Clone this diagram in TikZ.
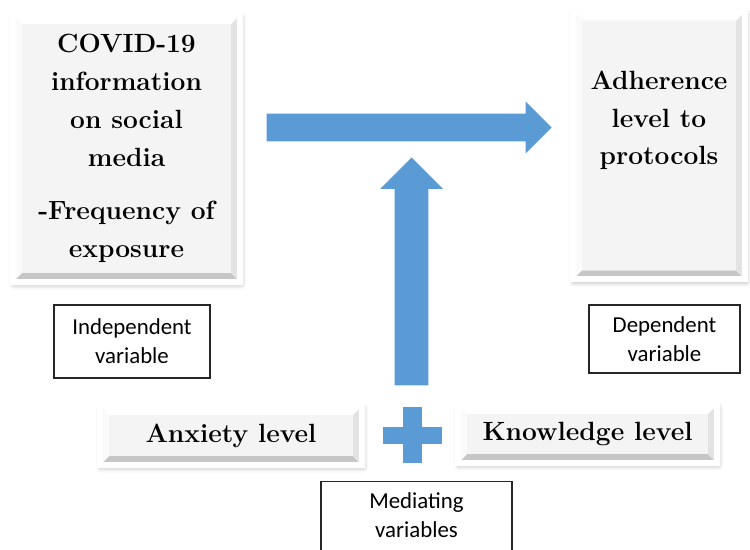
\documentclass[tikz,border=0pt]{standalone}
\usepackage{fontspec}
\newfontfamily\calibri{Carlito}
\usetikzlibrary{positioning,shapes.arrows,shadows.blur}
\definecolor{flowblue}{HTML}{5B9BD5}
\definecolor{panelgray}{HTML}{F4F4F4}
\tikzset{
  panel/.style={rectangle, fill=panelgray, draw=white, line width=3.4pt, inner sep=0pt,
    blur shadow={shadow xshift=0.6pt, shadow yshift=-1.4pt, shadow blur radius=3pt, shadow opacity=35},
    path picture={
      \fill[gray!45] (path picture bounding box.south west) -- ++(5pt,5pt)
        -- ([shift={(-5pt,5pt)}]path picture bounding box.south east)
        -- (path picture bounding box.south east) -- cycle;
      \fill[gray!22] (path picture bounding box.south east) -- ++(-5pt,5pt)
        -- ([shift={(-5pt,-5pt)}]path picture bounding box.north east)
        -- (path picture bounding box.north east) -- cycle;
      \fill[white] (path picture bounding box.north west) -- ++(5pt,-5pt)
        -- ([shift={(-5pt,-5pt)}]path picture bounding box.north east)
        -- (path picture bounding box.north east) -- cycle;
      \fill[white!96!gray] (path picture bounding box.south west) -- ++(5pt,5pt)
        -- ([shift={(5pt,-5pt)}]path picture bounding box.north west)
        -- (path picture bounding box.north west) -- cycle;
    }},
  paneltext/.style={font=\fontsize{15}{21.5}\selectfont\bfseries, align=center, inner sep=0pt},
  varbox/.style={rectangle, draw=black!85, line width=0.7pt, fill=white, inner sep=0pt},
  vartext/.style={font=\calibri\fontsize{13}{16.5}\selectfont, align=center, inner sep=0pt},
  blockarrow/.style={single arrow, fill=flowblue, draw=none, inner sep=0pt, anchor=tip}
}
\begin{document}
\begin{tikzpicture}[x=0.02cm,y=-0.02cm]
\useasboundingbox (0,0) rectangle (750,550);
% the two outcome panels
\node[panel, paneltext, minimum width=4.54cm, minimum height=5.34cm] (covid) at (126.5,148.5)
  {COVID-19\\information\\on social\\media\\[9pt]-Frequency of\\exposure};
\node[panel, minimum width=3.44cm, minimum height=5.36cm] (adh) at (659,145.5) {};
\node[paneltext, below=1.24cm of adh.north] (adhtext) {Adherence\\level to\\protocols};
% mediators
\node[panel, paneltext, minimum width=5.24cm, minimum height=1.18cm] (anx) at (231,435.5) {Anxiety level};
\node[panel, paneltext, minimum width=5.18cm, minimum height=1.16cm] (know) at (587.5,434) {Knowledge level};
% block arrows and plus
\node[blockarrow, minimum height=5.7cm, minimum width=1.02cm, inner ysep=0.27cm,
  single arrow head extend=0.24cm] (flow) at (552,127.5) {};
\node[blockarrow, shape border rotate=90, minimum height=4.56cm, minimum width=1.24cm, inner xsep=0.33cm,
  single arrow head extend=0.29cm] (mediate) at (411.5,157) {};
\fill[flowblue] (403,407) rectangle (422,463);
\fill[flowblue] (383,427) rectangle (442,444);
% variable labels
\node[varbox, vartext, minimum width=3.12cm, minimum height=1.46cm] (indep) at (132,341.5) {Independent\\variable};
\node[varbox, vartext, minimum width=3.02cm, minimum height=1.36cm] (dep) at (664.5,339) {Dependent\\variable};
\node[varbox, anchor=north, minimum width=3.82cm, minimum height=2cm] (med) at (416.5,481) {};
\node[vartext, below=0.22cm of med.north] (medtext) {Mediating\\variables};
\end{tikzpicture}
\end{document}
